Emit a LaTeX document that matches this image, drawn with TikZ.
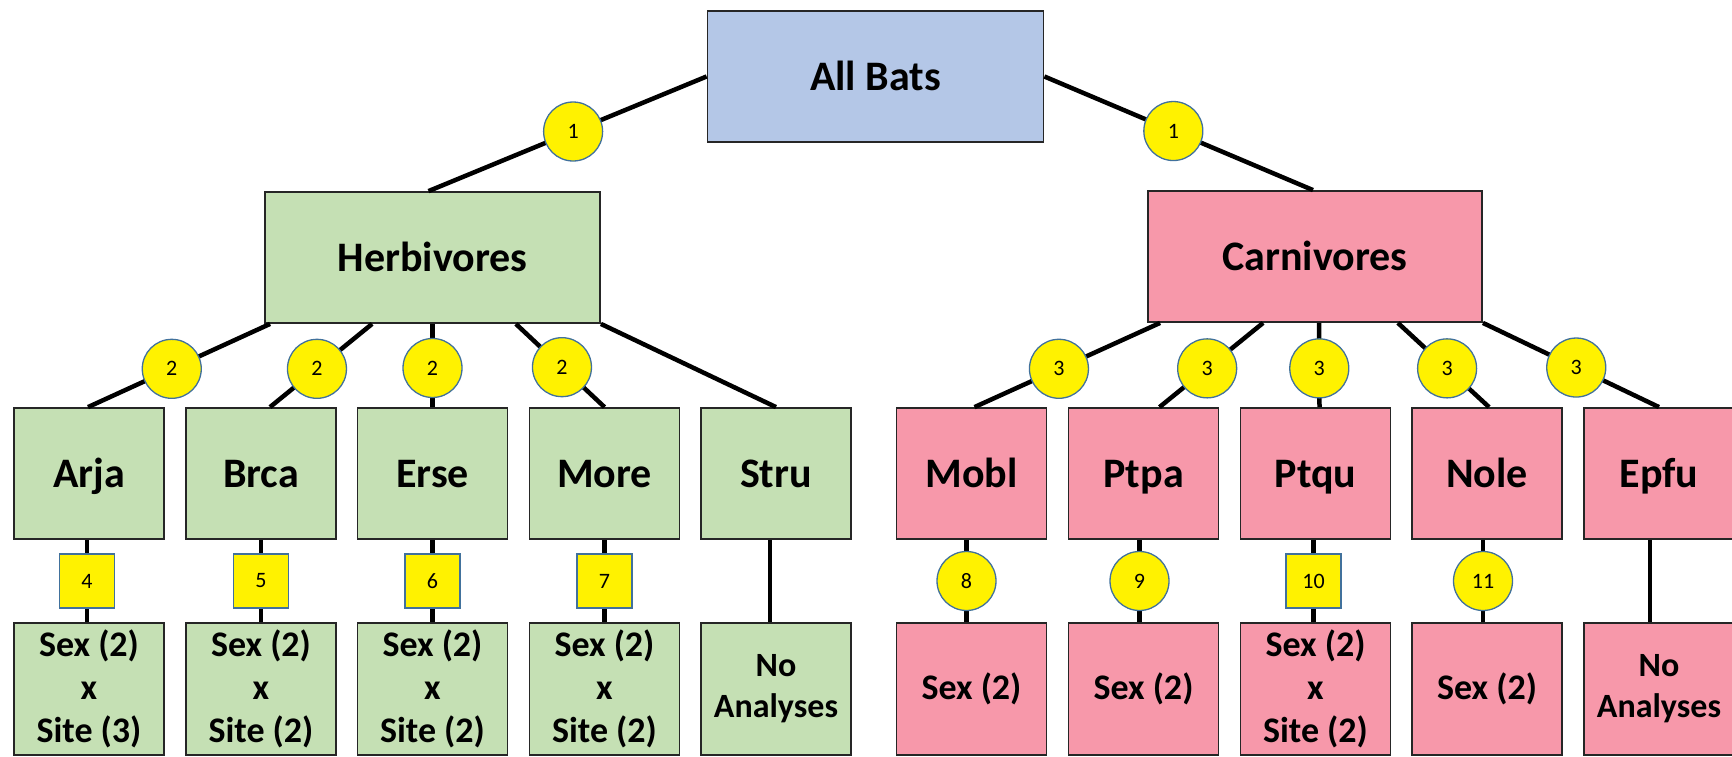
\documentclass[tikz,border=0pt]{standalone}
\usepackage{fontspec}
\setmainfont{Carlito}
\definecolor{bluefill}{HTML}{B4C7E7}
\definecolor{greenfill}{HTML}{C5E0B4}
\definecolor{pinkfill}{RGB}{247,152,170}
\definecolor{badgeline}{HTML}{41719C}
\begin{document}
\begin{tikzpicture}[x=1pt,y=-1pt,
  box/.style={draw=black!85, line width=1.8pt, inner sep=0pt, align=center,
    font=\bfseries\fontsize{42}{50}\selectfont},
  onerow/.style={text height=33.6pt, text depth=6.5pt},
  topbox/.style={box, onerow, minimum width=336pt, minimum height=131pt},
  leaf/.style={box, onerow, minimum width=150pt, minimum height=131pt},
  res/.style={box, minimum width=150pt, minimum height=132pt,
    font=\bfseries\fontsize{36}{43}\selectfont},
  nores/.style={box, minimum width=150pt, minimum height=132pt,
    font=\bfseries\fontsize{34}{41}\selectfont},
  herb/.style={fill=greenfill},
  carn/.style={fill=pinkfill},
  link/.style={line width=4.5pt, black},
  badge/.style={circle, fill=yellow, draw=badgeline, line width=1.3pt,
    minimum size=59pt, inner sep=0pt, font=\fontsize{22}{26}\selectfont},
  sqbadge/.style={rectangle, fill=yellow, draw=badgeline, line width=1.3pt,
    minimum width=55pt, minimum height=54pt, inner sep=0pt,
    font=\fontsize{22}{26}\selectfont}
]
\useasboundingbox (0,0) rectangle (1732,757);

% top levels
\node[topbox, fill=bluefill] (all) at (875.5,76.5) {All Bats};
\node[topbox, herb, minimum width=335pt] (herbv) at (432.5,257.5) {Herbivores};
\node[topbox, carn, minimum width=334pt] (carnv) at (1315,256.5) {Carnivores};

% species row
\node[leaf, herb] (arja) at (89,473.5) {Arja};
\node[leaf, herb] (brca) at (261,473.5) {Brca};
\node[leaf, herb] (erse) at (432.5,473.5) {Erse};
\node[leaf, herb] (more) at (604.5,473.5) {More};
\node[leaf, herb] (stru) at (776,473.5) {Stru};
\node[leaf, carn] (mobl) at (971.5,473.5) {Mobl};
\node[leaf, carn] (ptpa) at (1143.5,473.5) {Ptpa};
\node[leaf, carn] (ptqu) at (1315.5,473.5) {Ptqu};
\node[leaf, carn] (nole) at (1487,473.5) {Nole};
\node[leaf, carn] (epfu) at (1659,473.5) {Epfu};

% analyses row
\node[res, herb] (arjar) at (89,689) {Sex (2)\\x\\Site (3)};
\node[res, herb] (brcar) at (261,689) {Sex (2)\\x\\Site (2)};
\node[res, herb] (erser) at (432.5,689) {Sex (2)\\x\\Site (2)};
\node[res, herb] (morer) at (604.5,689) {Sex (2)\\x\\Site (2)};
\node[nores, herb] (strur) at (776,689) {No\\Analyses};
\node[res, carn] (moblr) at (971.5,689) {Sex (2)};
\node[res, carn] (ptpar) at (1143.5,689) {Sex (2)};
\node[res, carn] (ptqur) at (1315.5,689) {Sex (2)\\x\\Site (2)};
\node[res, carn] (noler) at (1487,689) {Sex (2)};
\node[nores, carn] (epfur) at (1659,689) {No\\Analyses};

% level 1 connectors
\draw[link] (all.west) -- node[badge, pos=0.48] (b1a) {1} ([xshift=-4pt]herbv.north);
\draw[link] (all.east) -- node[badge, pos=0.48] (b1b) {1} ([xshift=-2pt]carnv.north);

% herbivore connectors
\draw[link] ([xshift=6pt]herbv.south west) -- node[badge, pos=0.54] (b2a) {2} ([xshift=-1pt]arja.north);
\draw[link] ([xshift=108pt]herbv.south west) -- node[badge, pos=0.54] (b2b) {2} ([xshift=9pt]brca.north);
\draw[link] (herbv.south) -- node[badge, pos=0.53] (b2c) {2} (erse.north);
\draw[link] ([xshift=-85pt]herbv.south east) -- node[badge, pos=0.52] (b2d) {2} (more.north);
\draw[link] (herbv.south east) -- (stru.north);

% carnivore connectors
\draw[link] ([xshift=13pt]carnv.south west) -- node[badge, pos=0.545] (b3a) {3} ([xshift=3pt]mobl.north);
\draw[link] ([xshift=116pt]carnv.south west) -- node[badge, pos=0.54] (b3b) {3} ([xshift=16pt]ptpa.north);
\draw[link] ([xshift=4pt]carnv.south) -- node[badge, pos=0.54] (b3c) {3} ([xshift=4pt]ptqu.north);
\draw[link] ([xshift=-85pt]carnv.south east) -- node[badge, pos=0.54] (b3d) {3} ([xshift=2pt]nole.north);
\draw[link] (carnv.south east) -- node[badge, pos=0.53] (b3e) {3} (epfu.north);

% species to analyses
\draw[link] ([xshift=-2pt]arja.south) -- node[sqbadge] (b4) {4} ([xshift=-2pt]arjar.north);
\draw[link] (brca.south) -- node[sqbadge] (b5) {5} (brcar.north);
\draw[link] (erse.south) -- node[sqbadge] (b6) {6} (erser.north);
\draw[link] (more.south) -- node[sqbadge] (b7) {7} (morer.north);
\draw[link] ([xshift=-6pt]stru.south) -- ([xshift=-6pt]strur.north);
\draw[link] ([xshift=-5pt]mobl.south) -- node[badge] (b8) {8} ([xshift=-5pt]moblr.north);
\draw[link] ([xshift=-4pt]ptpa.south) -- node[badge] (b9) {9} ([xshift=-4pt]ptpar.north);
\draw[link] ([xshift=-2pt]ptqu.south) -- node[sqbadge] (b10) {10} ([xshift=-2pt]ptqur.north);
\draw[link] ([xshift=-4pt]nole.south) -- node[badge] (b11) {11} ([xshift=-4pt]noler.north);
\draw[link] ([xshift=-9pt]epfu.south) -- ([xshift=-9pt]epfur.north);
\end{tikzpicture}
\end{document}
